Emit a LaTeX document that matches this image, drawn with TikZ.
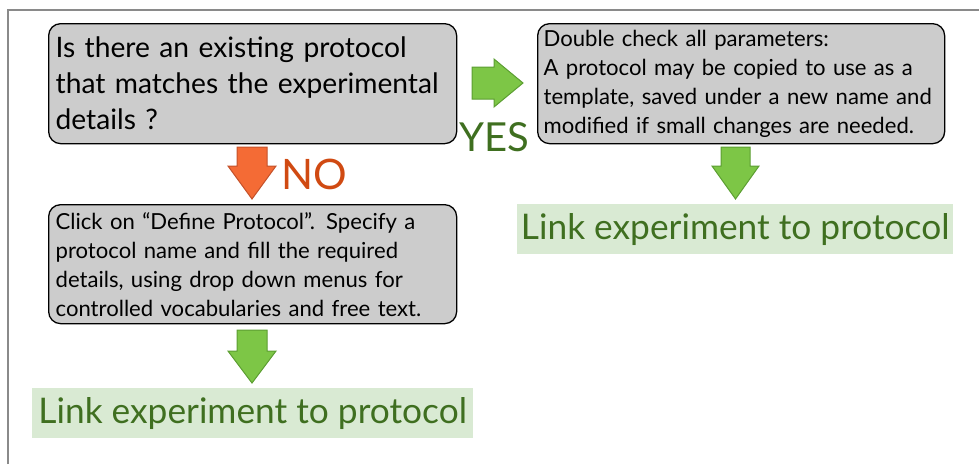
\documentclass[tikz,border=0pt]{standalone}
\usepackage{fontspec}
\setmainfont{Lato}
\begin{document}
\begin{tikzpicture}[x=1pt,y=1pt,
  qbox/.style={draw=black, line width=1.3pt, fill=boxgray, rounded corners=12pt,
    minimum width=408pt, minimum height=120pt, text width=394pt, align=left,
    inner sep=0pt, anchor=north west},
  linkbox/.style={fill=linkfill, text=linkgreen, inner sep=0pt, anchor=north west,
    font=\fontsize{35.3}{40}\selectfont},
  garrow/.style={fill=arrowgreen, draw=arrowgreenedge, line width=1pt, line join=miter},
  oarrow/.style={fill=arroworange, draw=arroworangeedge, line width=1pt, line join=miter}
]
\definecolor{boxgray}{HTML}{CCCCCC}
\definecolor{linkfill}{HTML}{D9EAD3}
\definecolor{linkgreen}{HTML}{3F6F20}
\definecolor{arrowgreen}{HTML}{7DC646}
\definecolor{arrowgreenedge}{HTML}{5C9E32}
\definecolor{arroworange}{HTML}{F46B35}
\definecolor{arroworangeedge}{HTML}{C4512A}
\definecolor{nored}{HTML}{D04A12}
\definecolor{framegray}{HTML}{8A8A8A}
\useasboundingbox (0,0) rectangle (979,-464);
% frame
\draw[framegray, line width=1.5pt] (8,-464) -- (8,-10) -- (979,-10);
% boxes
\node[qbox, font=\fontsize{28.2}{36}\selectfont] (q) at (48,-23) {Is there an existing protocol\\that matches the experimental\\details ?};
\node[qbox, minimum width=407pt, text width=395pt, font=\fontsize{22.1}{29}\selectfont] (yesbox) at (537,-23) {Double check all parameters:\\A protocol may be copied to use as a\\template, saved under a new name and\\modified if small changes are needed.};
\node[qbox, minimum height=119pt, font=\fontsize{22.1}{29}\selectfont] (nobox) at (48,-204) {Click on ``Define Protocol''.\enspace Specify a\\protocol name and fill the required\\details, using drop down menus for\\controlled vocabularies and free text.};
% link boxes
\node[linkbox, minimum width=436pt, minimum height=50pt] (linkr) at (517,-204) {Link experiment to protocol};
\node[linkbox, minimum width=441pt, minimum height=50pt] (linkl) at (32,-388) {Link experiment to protocol};
% arrows
\draw[garrow] (472,-67) -- (494,-67) -- (494,-59) -- (523,-83) -- (494,-107) -- (494,-99) -- (472,-99) -- cycle;
\draw[oarrow] (237,-147) -- (267,-147) -- (267,-166) -- (276,-166) -- (252,-199) -- (228,-166) -- (237,-166) -- cycle;
\draw[garrow] (237,-330) -- (267,-330) -- (267,-351) -- (276,-351) -- (252,-383) -- (228,-351) -- (237,-351) -- cycle;
\draw[garrow] (721,-147) -- (750,-147) -- (750,-166) -- (759,-166) -- (735.5,-199) -- (712,-166) -- (721,-166) -- cycle;
% labels
\node[text=linkgreen, font=\fontsize{40}{40}\selectfont, inner sep=0pt, anchor=south west] (yes) at (459,-152) {YES};
\node[text=nored, font=\fontsize{42}{42}\selectfont, inner sep=0pt, anchor=south west] (no) at (281,-190) {NO};
\end{tikzpicture}
\end{document}
